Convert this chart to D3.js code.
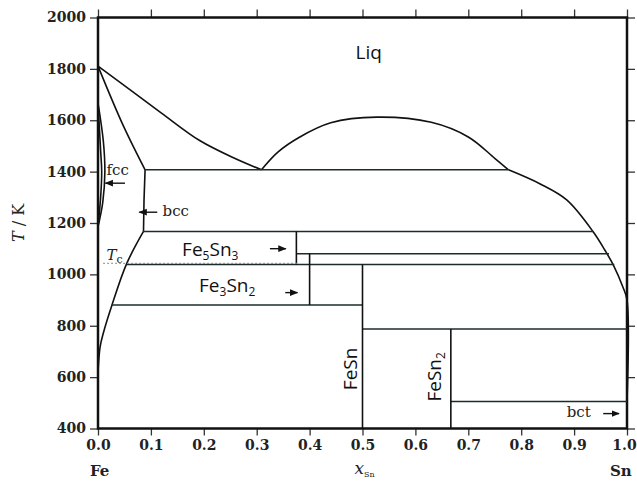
<!DOCTYPE html>
<html lang="en">
<head>
<meta charset="UTF-8">
<title>Fe-Sn phase diagram</title>
<script src="https://d3js.org/d3.v7.min.js"></script>
<style>
  body { margin: 0; background: #fff; }
  .tick text { font-family: "DejaVu Serif", serif; font-weight: bold; font-size: 14px; fill: #222; }
  .phase { font-family: "Open Sans", sans-serif; font-size: 19px; fill: #111; }
  .serif { font-family: "DejaVu Serif", serif; fill: #222; }
</style>
</head>
<body>
<div id="chart"></div>
<script>
// phase boundaries as [x_Sn, T/K]
const liquidusFe = [[0, 1811], [0.05, 1735], [0.12, 1628], [0.193, 1520], [0.255, 1455], [0.309, 1407]]
const miscibilityGap = [[0.309, 1407], [0.34, 1476], [0.38, 1533], [0.44, 1590], [0.527, 1612],
  [0.63, 1592], [0.70, 1535], [0.75, 1452], [0.776, 1407]]
const liquidusSn = [[0.776, 1407], [0.836, 1352], [0.886, 1290], [0.936, 1166], [0.958, 1095],
  [0.974, 1037], [0.992, 952], [1.0, 900], [1.0, 505]]
const solidusBcc = [[0, 1811], [0.048, 1578], [0.089, 1407]]
const solvusBccHigh = [[0.089, 1407], [0.087, 1290], [0.086, 1167]]
const solvusBccLow = [[0.086, 1167], [0.054, 1041], [0.026, 878], [0.010, 771], [0.004, 718], [0, 620]]
const gammaOuter = [[0, 1667], [0.010, 1520], [0.013, 1400], [0.009, 1280], [0, 1185]]
const gammaInner = [[0, 1667], [0.005, 1480], [0.007, 1400], [0.005, 1300], [0, 1185]]

// invariant lines [x1, x2, T] and compound lines [x, T1, T2]
const horizontals = [[0.089, 0.776, 1407], [0.086, 0.936, 1167], [0.375, 0.966, 1080],
  [0.054, 0.976, 1038], [0.026, 0.5, 881], [0.5, 1.0, 787], [0.667, 1.0, 505]]
const verticals = [[0.375, 1167, 1038], [0.4, 1080, 881], [0.5, 1038, 400], [0.667, 787, 400]]
const curieLine = [0.01, 0.38, 1043]

const xTicks = [0, 0.1, 0.2, 0.3, 0.4, 0.5, 0.6, 0.7, 0.8, 0.9, 1.0]
const yTicks = [400, 600, 800, 1000, 1200, 1400, 1600, 1800, 2000]

const W = 637, H = 482
const svg = d3.select("#chart").append("svg")
  .attr("width", W).attr("height", H)

const x = d3.scaleLinear().domain([0, 1]).range([98, 627])
const y = d3.scaleLinear().domain([400, 2000]).range([428.5, 17.5])

// arrow head
svg.append("defs").append("marker")
  .attr("id", "head").attr("viewBox", "0 0 10 10")
  .attr("refX", 9).attr("refY", 5)
  .attr("markerWidth", 6).attr("markerHeight", 6)
  .attr("orient", "auto")
  .append("path").attr("d", "M0,1 L10,5 L0,9 Z").attr("fill", "#111")

// axes
const bottomAxis = svg.append("g").attr("transform", `translate(0,${y(400)})`)
  .call(d3.axisBottom(x).tickValues(xTicks).tickFormat(d3.format(".1f")).tickSize(7).tickPadding(5))
bottomAxis.selectAll(".tick text").filter(d => d === 1).attr("dx", -3)
svg.append("g").attr("transform", `translate(0,${y(2000)})`)
  .call(d3.axisTop(x).tickValues(xTicks).tickFormat("").tickSize(8))
svg.append("g").attr("transform", `translate(${x(0)},0)`)
  .call(d3.axisLeft(y).tickValues(yTicks).tickFormat(d3.format("d")).tickSize(8).tickPadding(4))
svg.append("g").attr("transform", `translate(${x(1)},0)`)
  .call(d3.axisRight(y).tickValues(yTicks).tickFormat("").tickSize(8))
svg.selectAll(".domain").remove()
svg.selectAll(".tick line").attr("stroke", "#333").attr("stroke-width", 1.3)

// frame
svg.append("rect")
  .attr("x", x(0)).attr("y", y(2000))
  .attr("width", x(1) - x(0)).attr("height", y(400) - y(2000))
  .attr("fill", "none").attr("stroke", "#111").attr("stroke-width", 2.5)

const line = d3.line().x(d => x(d[0])).y(d => y(d[1]))
const smoothX = [liquidusFe, solidusBcc]
const smoothFree = [miscibilityGap, liquidusSn, solvusBccLow, gammaOuter, gammaInner]
svg.append("g").selectAll("path")
  .data(smoothX)
  .join("path")
  .attr("d", d => line.curve(d3.curveMonotoneX)(d))
  .attr("fill", "none").attr("stroke", "#111").attr("stroke-width", 1.6)
svg.append("g").selectAll("path")
  .data(smoothFree)
  .join("path")
  .attr("d", d => line.curve(d3.curveCatmullRom.alpha(0.5))(d))
  .attr("fill", "none").attr("stroke", "#111").attr("stroke-width", 1.6)
svg.append("path")
  .attr("d", line.curve(d3.curveMonotoneY)(solvusBccHigh))
  .attr("fill", "none").attr("stroke", "#111").attr("stroke-width", 1.6)

svg.append("g").selectAll("line")
  .data(horizontals)
  .join("line")
  .attr("x1", d => x(d[0])).attr("x2", d => x(d[1]))
  .attr("y1", d => y(d[2])).attr("y2", d => y(d[2]))
  .attr("stroke", "#1c2b2b").attr("stroke-width", 1.5)

svg.append("g").selectAll("line")
  .data(verticals)
  .join("line")
  .attr("x1", d => x(d[0])).attr("x2", d => x(d[0]))
  .attr("y1", d => y(d[1])).attr("y2", d => y(d[2]))
  .attr("stroke", "#111").attr("stroke-width", 1.6)

svg.append("line")
  .attr("x1", x(curieLine[0])).attr("x2", x(curieLine[1]))
  .attr("y1", y(curieLine[2])).attr("y2", y(curieLine[2]))
  .attr("stroke", "#888").attr("stroke-width", 1.3).attr("stroke-dasharray", "1.5,2.5")

// labels
svg.append("text").attr("class", "phase")
  .attr("x", x(0.487)).attr("y", y(1840)).text("Liq")

svg.append("text").attr("class", "serif").attr("font-size", 15)
  .attr("x", x(0.016)).attr("y", y(1388)).text("fcc")
svg.append("text").attr("class", "serif").attr("font-size", 15)
  .attr("x", x(0.122)).attr("y", y(1228)).text("bcc")
svg.append("text").attr("class", "serif").attr("font-size", 15).attr("fill", "#555")
  .attr("x", x(0.016)).attr("y", y(1055))
  .call(t => {
    t.append("tspan").attr("font-style", "italic").text("T")
    t.append("tspan").attr("font-size", 11).attr("dy", 3).text("c")
  })

const formula = (sel, parts) => {
  parts.forEach(p => {
    if (p.sub) sel.append("tspan").attr("font-size", 12).attr("dy", 4).text(p.t)
    else sel.append("tspan").attr("dy", p.back ? -4 : 0).text(p.t)
  })
}
svg.append("text").attr("class", "phase")
  .attr("x", x(0.159)).attr("y", y(1070))
  .call(t => formula(t, [{t: "Fe"}, {t: "5", sub: true}, {t: "Sn", back: true}, {t: "3", sub: true}]))
svg.append("text").attr("class", "phase")
  .attr("x", x(0.191)).attr("y", y(930))
  .call(t => formula(t, [{t: "Fe"}, {t: "3", sub: true}, {t: "Sn", back: true}, {t: "2", sub: true}]))
svg.append("text").attr("class", "phase")
  .attr("transform", `translate(${x(0.5) - 6},${y(632)}) rotate(-90)`)
  .attr("text-anchor", "middle").text("FeSn")
svg.append("text").attr("class", "phase")
  .attr("transform", `translate(${x(0.667) - 10},${y(601)}) rotate(-90)`)
  .attr("text-anchor", "middle")
  .call(t => formula(t, [{t: "FeSn"}, {t: "2", sub: true}]))
svg.append("text").attr("class", "serif").attr("font-size", 15)
  .attr("x", x(0.886)).attr("y", y(445)).text("bct")

// arrows [x1, x2, T]
const arrows = [[0.051, 0.014, 1355], [0.112, 0.078, 1242], [0.325, 0.355, 1100],
  [0.354, 0.377, 929], [0.955, 0.985, 458]]
svg.append("g").selectAll("line")
  .data(arrows)
  .join("line")
  .attr("x1", d => x(d[0])).attr("x2", d => x(d[1]))
  .attr("y1", d => y(d[2])).attr("y2", d => y(d[2]))
  .attr("stroke", "#111").attr("stroke-width", 1.4)
  .attr("marker-end", "url(#head)")

// axis titles
svg.append("text").attr("class", "serif").attr("font-size", 15).attr("font-weight", "bold")
  .attr("x", x(0) - 8).attr("y", 476).text("Fe")
svg.append("text").attr("class", "serif").attr("font-size", 15).attr("font-weight", "bold")
  .attr("x", x(1) - 17).attr("y", 476).text("Sn")
svg.append("text").attr("class", "serif").attr("font-size", 17)
  .attr("x", x(0.5) - 8).attr("y", 474)
  .call(t => {
    t.append("tspan").attr("font-style", "italic").text("x")
    t.append("tspan").attr("font-size", 8).attr("dy", 3).text("Sn")
  })
svg.append("text").attr("class", "serif").attr("font-size", 16)
  .attr("transform", `translate(24,${y(1200)}) rotate(-90)`)
  .attr("text-anchor", "middle")
  .call(t => {
    t.append("tspan").attr("font-style", "italic").text("T")
    t.append("tspan").text(" / K")
  })
</script>
</body>
</html>
